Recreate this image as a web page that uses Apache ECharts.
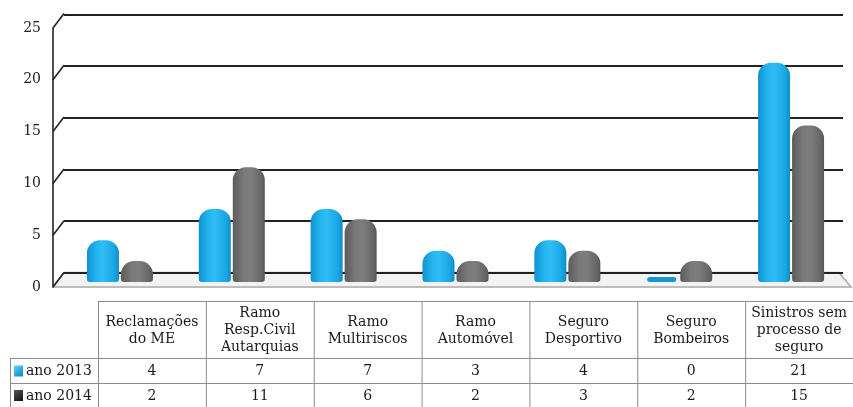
<!DOCTYPE html>
<html>
<head>
<meta charset="utf-8">
<script src="https://cdn.jsdelivr.net/npm/echarts@6/dist/echarts.min.js"></script>
<style>
html,body{margin:0;padding:0;background:#fff;}
#chart{width:853px;height:407px;}
</style>
</head>
<body>
<div id="chart"></div>
<script>
// ---- data ----
const categories = ['Reclamações\ndo ME', 'Ramo\nResp.Civil\nAutarquias', 'Ramo\nMultiriscos', 'Ramo\nAutomóvel', 'Seguro\nDesportivo', 'Seguro\nBombeiros', 'Sinistros sem\nprocesso de\nseguro'];
const seriesNames = ['ano 2013', 'ano 2014'];
const values2013 = [4, 7, 7, 3, 4, 0, 21];
const values2014 = [2, 11, 6, 2, 3, 2, 15];
const yTickValues = [0, 5, 10, 15, 20, 25];
const yMin = 0, yMax = 25, yInterval = 5;

// ---- styles / layout ----
const FONT = '"DejaVu Serif", "Liberation Serif", serif';
const TEXT = '#1a1a1a';
const LINE = '#8c8c8c';
const W = 853, H = 407;
const FRONT = { left: 53, top: 28, bottomY: 287, rightX: 851 };
const BACK = { left: 64, top: 14.5, bottomY: 272.5, rightX: 843 };
const BARS = { left: 64, top: 21, bottomY: 282, rightX: 847 };
const TABLE = { left: 98, top: 301, colW: 109.2, headerH: 57, rowH: 25, labelLeft: 10 };
const BAR_W = 32, BAR_OFF = 17;

const blueGrad = { type: 'linear', x: 0, y: 0, x2: 1, y2: 0, colorStops: [
  { offset: 0, color: '#0f92d0' }, { offset: 0.3, color: '#24b4ef' }, { offset: 0.5, color: '#30bdf4' },
  { offset: 0.85, color: '#1aa6e3' }, { offset: 1, color: '#0e8cc9' } ] };
const grayGrad = { type: 'linear', x: 0, y: 0, x2: 1, y2: 0, colorStops: [
  { offset: 0, color: '#5c5c5c' }, { offset: 0.35, color: '#7a7a7a' }, { offset: 0.55, color: '#7d7d7d' },
  { offset: 0.85, color: '#6a6a6a' }, { offset: 1, color: '#575757' } ] };
const seriesFills = [blueGrad, grayGrad];
const keyFills = [
  { type: 'linear', x: 0, y: 0, x2: 1, y2: 1, colorStops: [{ offset: 0, color: '#5fd3fb' }, { offset: 1, color: '#0a86c4' }] },
  { type: 'linear', x: 0, y: 0, x2: 1, y2: 1, colorStops: [{ offset: 0, color: '#555' }, { offset: 1, color: '#111' }] }
];

function gridBox(b) {
  return { left: b.left, top: b.top, width: b.rightX - b.left, height: b.bottomY - b.top, containLabel: false };
}

function barRenderer(sIdx) {
  return function (params, api) {
    const v = api.value(1);
    const top = api.coord([api.value(0), v]);
    const base = api.coord([api.value(0), 0]);
    const cx = top[0] + (sIdx === 0 ? -BAR_OFF : BAR_OFF);
    if (v === 0) {
      return { type: 'rect', shape: { x: cx - 15, y: base[1] - 5, width: 29, height: 5, r: 2.5 },
        style: { fill: '#1598d2' } };
    }
    return { type: 'rect',
      shape: { x: cx - BAR_W / 2, y: top[1], width: BAR_W, height: base[1] - top[1], r: [13, 13, 3, 3] },
      style: { fill: seriesFills[sIdx] } };
  };
}

function decoRenderer(params, api) {
  const cs = params.coordSys;
  const dx = BACK.left - FRONT.left, dy = BACK.bottomY - FRONT.bottomY;
  const children = [];
  const base = api.coord([0, 0]);
  children.push({ type: 'polygon', shape: { points: [
      [cs.x, base[1]], [cs.x + dx, base[1] + dy], [BACK.rightX - 4, base[1] + dy], [cs.x + cs.width, base[1]] ] },
    style: { fill: '#f3f3f3', stroke: '#a8a8a8', lineWidth: 1.5 } });
  yTickValues.forEach(function (t) {
    const p = api.coord([0, t]);
    children.push({ type: 'line', shape: { x1: p[0], y1: p[1], x2: p[0] + dx, y2: p[1] + dy },
      style: { stroke: '#222', lineWidth: 1.6 } });
  });
  return { type: 'group', children: children };
}

function tableRenderer(params, api) {
  const i = api.value(0);
  const c = api.coord([i, 0]);
  const w = api.size([1, 0])[0];
  const x0 = c[0] - w / 2;
  const y0 = TABLE.top, y1 = y0 + TABLE.headerH, y2 = y1 + TABLE.rowH, y3 = H + 2;
  const ch = [];
  const ln = (a, b, cc, d) => ({ type: 'line', shape: { x1: a, y1: b, x2: cc, y2: d }, style: { stroke: LINE, lineWidth: 1 } });
  ch.push(ln(x0 + 0.5, y0, x0 + 0.5, y3));
  ch.push(ln(x0, y0 + 0.5, x0 + w, y0 + 0.5));
  ch.push(ln(x0, y1 + 0.5, x0 + w, y1 + 0.5));
  ch.push(ln(x0, y2 + 0.5, x0 + w, y2 + 0.5));
  ch.push({ type: 'text', style: { text: categories[i], x: c[0], y: (y0 + y1) / 2 + 1, align: 'center', verticalAlign: 'middle',
    fontFamily: FONT, fontSize: 14, lineHeight: 17, fill: TEXT } });
  const rows = [values2013, values2014];
  rows.forEach(function (arr, r) {
    const yc = r === 0 ? (y1 + y2) / 2 + 1 : (y2 + H) / 2 + 1;
    ch.push({ type: 'text', style: { text: String(arr[i]), x: c[0], y: yc, align: 'center', verticalAlign: 'middle',
      fontFamily: FONT, fontSize: 14, fill: TEXT } });
  });
  if (i === 0) {
    const lx = TABLE.labelLeft;
    ch.push(ln(lx + 0.5, y1, lx + 0.5, y3));
    ch.push(ln(lx, y1 + 0.5, x0, y1 + 0.5));
    ch.push(ln(lx, y2 + 0.5, x0, y2 + 0.5));
    seriesNames.forEach(function (name, r) {
      const yc = r === 0 ? (y1 + y2) / 2 : (y2 + H) / 2;
      ch.push({ type: 'rect', shape: { x: lx + 4, y: yc - 5, width: 9, height: 11 }, style: { fill: keyFills[r] } });
      ch.push({ type: 'text', style: { text: name, x: lx + 16, y: yc + 1, align: 'left', verticalAlign: 'middle',
        fontFamily: FONT, fontSize: 14, fill: TEXT } });
    });
  }
  return { type: 'group', children: ch };
}

const chart = echarts.init(document.getElementById('chart'), null, { renderer: 'canvas' });
const option = {
  backgroundColor: '#ffffff',
  animation: false,
  grid: [
    gridBox(BACK),
    gridBox(FRONT),
    gridBox(BARS),
    { left: TABLE.left, top: TABLE.top, width: TABLE.colW * categories.length, height: H - TABLE.top }
  ],
  xAxis: [
    { gridIndex: 0, type: 'category', data: categories, show: false },
    { gridIndex: 1, type: 'value', min: 0, max: 1, show: false },
    { gridIndex: 2, type: 'category', data: categories, show: false },
    { gridIndex: 3, type: 'category', data: categories, show: false }
  ],
  yAxis: [
    { gridIndex: 0, type: 'value', min: yMin, max: yMax, interval: yInterval,
      axisLine: { show: false }, axisTick: { show: false }, axisLabel: { show: false },
      splitLine: { show: true, lineStyle: { color: '#222', width: 2 } } },
    { gridIndex: 1, type: 'value', min: yMin, max: yMax, interval: yInterval,
      axisLine: { show: true, lineStyle: { color: '#222', width: 1.6 } }, axisTick: { show: false },
      axisLabel: { show: true, margin: 12, fontFamily: FONT, fontSize: 14, color: '#222' },
      splitLine: { show: false } },
    { gridIndex: 2, type: 'value', min: yMin, max: yMax, show: false, splitLine: { show: false } },
    { gridIndex: 3, type: 'value', min: 0, max: 1, show: false, splitLine: { show: false } }
  ],
  series: [
    { type: 'custom', name: 'deco', xAxisIndex: 1, yAxisIndex: 1, z: -1, data: [[0, 0]],
      renderItem: decoRenderer, silent: true },
    { type: 'custom', name: seriesNames[0], xAxisIndex: 2, yAxisIndex: 2, z: 3,
      data: values2013.map((v, i) => [i, v]), encode: { x: 0, y: 1 }, renderItem: barRenderer(0) },
    { type: 'custom', name: seriesNames[1], xAxisIndex: 2, yAxisIndex: 2, z: 3,
      data: values2014.map((v, i) => [i, v]), encode: { x: 0, y: 1 }, renderItem: barRenderer(1) },
    { type: 'custom', name: 'table', xAxisIndex: 3, yAxisIndex: 3, z: 4,
      data: categories.map((c, i) => [i, 0]), encode: { x: 0, y: 1 }, renderItem: tableRenderer, silent: true }
  ]
};
chart.setOption(option);
</script>
</body>
</html>
